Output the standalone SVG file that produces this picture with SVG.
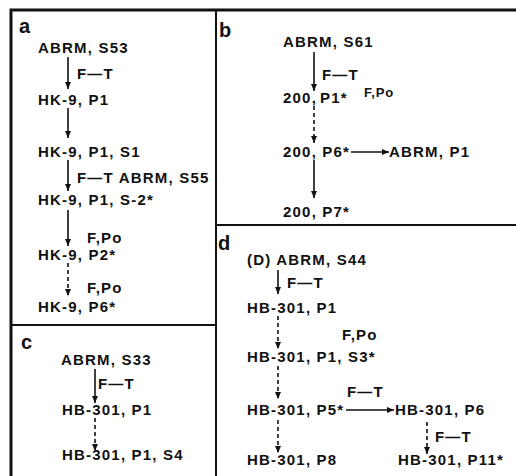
<svg xmlns="http://www.w3.org/2000/svg" width="516" height="476" viewBox="0 0 516 476">
<style>
  text { font-family: "Liberation Sans", Arial, sans-serif; font-weight: bold; fill: #111; }
  .t { font-size: 15px; letter-spacing: 1.2px; }
  .s { font-size: 13px; letter-spacing: 0.8px; }
  .lbl { font-size: 20px; font-weight: 900; }
  .frame { stroke: #111; fill: none; }
  .ln { stroke: #111; stroke-width: 1.6; fill: none; marker-end: url(#ah); }
  .dash { stroke-dasharray: 4 3; }
</style>
<defs>
  <marker id="ah" markerUnits="userSpaceOnUse" markerWidth="8" markerHeight="8" viewBox="0 0 8 8" refX="7" refY="4" orient="auto">
    <path d="M0,1 L7,4 L0,7 Z" fill="#111"/>
  </marker>
</defs>
<rect width="516" height="476" fill="#fff"/>
<g id="frames">
  <path class="frame" stroke-width="3" d="M11,476 V10 H516"/>
  <path class="frame" stroke-width="2" d="M216,10 V476"/>
  <path class="frame" stroke-width="2" d="M11,325 H216"/>
  <path class="frame" stroke-width="2" d="M216,225 H516"/>
</g>
<g id="labels">
  <text class="lbl" x="19" y="33">a</text>
  <text class="lbl" x="219" y="37">b</text>
  <text class="lbl" x="21" y="349">c</text>
  <text class="lbl" x="218" y="250">d</text>
</g>
<g id="connectors">
  <!-- panel a -->
  <line class="ln" x1="68" y1="57" x2="68" y2="89"/>
  <line class="ln" x1="68" y1="108" x2="68" y2="138"/>
  <line class="ln" x1="68" y1="160" x2="68" y2="191"/>
  <line class="ln" x1="68" y1="210" x2="68" y2="246"/>
  <line class="ln dash" x1="68" y1="263" x2="68" y2="296"/>
  <!-- panel c -->
  <line class="ln" x1="95" y1="369" x2="95" y2="403"/>
  <line class="ln dash" x1="95" y1="418" x2="95" y2="451"/>
  <!-- panel b -->
  <line class="ln" x1="314" y1="52" x2="314" y2="91"/>
  <line class="ln dash" x1="314" y1="106" x2="314" y2="143"/>
  <line class="ln" x1="351" y1="152" x2="389" y2="152"/>
  <line class="ln" x1="314" y1="160" x2="314" y2="198"/>
  <!-- panel d -->
  <line class="ln" x1="278" y1="270" x2="278" y2="294"/>
  <line class="ln dash" x1="278" y1="316" x2="278" y2="349"/>
  <line class="ln dash" x1="278" y1="366" x2="278" y2="399"/>
  <line class="ln" x1="346" y1="410" x2="394" y2="410"/>
  <line class="ln dash" x1="427" y1="422" x2="427" y2="454"/>
  <line class="ln dash" x1="278" y1="420" x2="278" y2="453"/>
</g>
<g id="panel-a">
  <g id="a1"><text class="t" x="38" y="53">ABRM, S53</text></g>
  <text class="t" x="77" y="79">F—T</text>
  <g id="a2"><text class="t" x="38" y="105">HK-9, P1</text></g>
  <g id="a3"><text class="t" x="38" y="157">HK-9, P1, S1</text></g>
  <text class="t" x="77" y="183">F—T ABRM, S55</text>
  <g id="a4"><text class="t" x="38" y="205">HK-9, P1, S-2*</text></g>
  <text class="t" x="87" y="243">F,Po</text>
  <g id="a5"><text class="t" x="38" y="260">HK-9, P2*</text></g>
  <text class="t" x="87" y="293">F,Po</text>
  <g id="a6"><text class="t" x="38" y="312">HK-9, P6*</text></g>
</g>
<g id="panel-c">
  <g id="c1"><text class="t" x="61" y="365">ABRM, S33</text></g>
  <text class="t" x="98" y="389">F—T</text>
  <g id="c2"><text class="t" x="62" y="415">HB-301, P1</text></g>
  <g id="c3"><text class="t" x="62" y="460">HB-301, P1, S4</text></g>
</g>
<g id="panel-b">
  <g id="b1"><text class="t" x="283" y="47">ABRM, S61</text></g>
  <text class="t" x="322" y="80">F—T</text>
  <g id="b2"><text class="t" x="283" y="103">200,</text><text class="t" x="320" y="103">P1*</text></g>
  <text class="s" x="364" y="97">F,Po</text>
  <g id="b3"><text class="t" x="283" y="157">200, P6*</text></g>
  <g id="b4"><text class="t" x="389" y="157">ABRM, P1</text></g>
  <g id="b5"><text class="t" x="283" y="217">200, P7*</text></g>
</g>
<g id="panel-d">
  <g id="d1"><text class="t" x="247" y="265">(D) ABRM, S44</text></g>
  <text class="t" x="287" y="288">F—T</text>
  <g id="d2"><text class="t" x="247" y="313">HB-301, P1</text></g>
  <text class="t" x="342" y="340">F,Po</text>
  <g id="d3"><text class="t" x="247" y="362">HB-301, P1, S3*</text></g>
  <text class="t" x="347" y="397">F—T</text>
  <g id="d4"><text class="t" x="247" y="415">HB-301, P5*</text></g>
  <g id="d5"><text class="t" x="395" y="415">HB-301, P6</text></g>
  <text class="t" x="435" y="442">F—T</text>
  <g id="d6"><text class="t" x="247" y="465">HB-301, P8</text></g>
  <g id="d7"><text class="t" x="398" y="465">HB-301, P11*</text></g>
</g>
</svg>
